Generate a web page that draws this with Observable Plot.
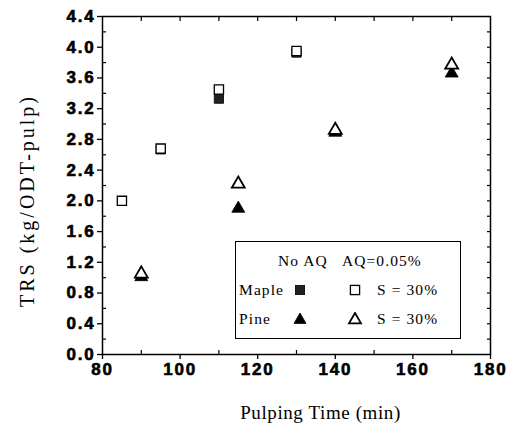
<!DOCTYPE html>
<html><head><meta charset="utf-8">
<script src="https://cdn.jsdelivr.net/npm/d3@7"></script>
<script src="https://cdn.jsdelivr.net/npm/@observablehq/plot@0.6"></script>
<style>
body{margin:0;background:#fff;}
#wrap{position:relative;width:511px;height:432px;}
#legend{position:absolute;left:235px;top:241px;width:224px;height:96px;border:1.5px solid #000;box-sizing:content-box;font-family:"Liberation Serif","Times New Roman",serif;font-size:15.5px;color:#000;letter-spacing:1.1px;}
#legend span, #legend svg{position:absolute;line-height:1;}
</style></head><body><div id="wrap"></div>
<script>
// Data
const mapleNoAQTime = [95, 110, 130];
const mapleNoAQ     = [2.67, 3.33, 3.93];
const mapleAQTime   = [85, 95, 110, 130];
const mapleAQ       = [2.00, 2.68, 3.45, 3.95];
const pineTime      = [90, 115, 140, 170];
const pineNoAQ      = [1.01, 1.90, 2.89, 3.66];
const pineAQ        = [1.05, 2.22, 2.92, 3.77];
const xMajor = [80, 100, 120, 140, 160, 180];
const xMinor = [90, 110, 130, 150, 170];
const xAll   = [90, 100, 110, 120, 130, 140, 150, 160, 170];
const yMajor = [0.0, 0.4, 0.8, 1.2, 1.6, 2.0, 2.4, 2.8, 3.2, 3.6, 4.0, 4.4];
const yMinor = [0.2, 0.6, 1.0, 1.4, 1.8, 2.2, 2.6, 3.0, 3.4, 3.8, 4.2];
const yAll   = [0.2, 0.4, 0.6, 0.8, 1.0, 1.2, 1.4, 1.6, 1.8, 2.0, 2.2, 2.4, 2.6, 2.8, 3.0, 3.2, 3.4, 3.6, 3.8, 4.0, 4.2];
const xLabel = "Pulping Time (min)";
const yLabel = "TRS (kg/ODT-pulp)";

const pts = (xs, ys) => xs.map((x, i) => ({x, y: ys[i]}));
const tickFont = {fontSize: 17, fontWeight: "bold", fontFamily: "'Liberation Sans', Arial, sans-serif"};
const blank = () => "";
const serif = "'Liberation Serif', 'Times New Roman', serif";

const plot = Plot.plot({
  width: 511, height: 432,
  marginLeft: 102, marginRight: 21, marginTop: 16, marginBottom: 78,
  x: {domain: [80, 180]},
  y: {domain: [0, 4.4]},
  style: {background: "white", color: "black", overflow: "visible"},
  marks: [
    Plot.frame({stroke: "black", strokeWidth: 1.5}),
    Plot.axisX(xMajor, {anchor: "bottom", tickSize: 5, tickPadding: 3, strokeWidth: 1.3, label: null, tickFormat: d => String(d), ...tickFont}),
    Plot.axisX(xMinor, {anchor: "bottom", tickSize: 4, dy: -4, strokeWidth: 1.2, label: null, tickFormat: blank}),
    Plot.axisX(xAll, {anchor: "top", tickSize: 4, dy: 4, strokeWidth: 1.2, label: null, tickFormat: blank}),
    Plot.axisY(yMajor, {anchor: "left", tickSize: 5, tickPadding: 2, strokeWidth: 1.3, label: null, tickFormat: d => d.toFixed(1), ...tickFont}),
    Plot.axisY(yMinor, {anchor: "left", tickSize: 4, dx: 4, strokeWidth: 1.2, label: null, tickFormat: blank}),
    Plot.axisY(yAll, {anchor: "right", tickSize: 4, dx: -4, strokeWidth: 1.2, label: null, tickFormat: blank}),
    Plot.text([xLabel], {frameAnchor: "bottom", dy: 64, dx: 24, text: d => d, fontSize: 19, fontFamily: serif}),
    Plot.text([yLabel], {frameAnchor: "left", textAnchor: "middle", dx: -75, dy: 15, rotate: -90, text: d => d, fontSize: 20, fontFamily: serif}),
    Plot.dot(pts(mapleNoAQTime, mapleNoAQ), {x: "x", y: "y", symbol: "square", r: 5.2, fill: "#222", stroke: "#000", strokeWidth: 0.8}),
    Plot.dot(pts(pineTime, pineNoAQ), {x: "x", y: "y", symbol: "triangle", r: 4.8, fill: "#000", stroke: "#000", strokeWidth: 0.8}),
    Plot.dot(pts(mapleAQTime, mapleAQ), {x: "x", y: "y", symbol: "square", r: 5.2, fill: "white", stroke: "#000", strokeWidth: 1.3}),
    Plot.dot(pts(pineTime, pineAQ), {x: "x", y: "y", symbol: "triangle", r: 4.8, fill: "white", stroke: "#000", strokeWidth: 1.8})
  ]
});
plot.querySelectorAll('g[aria-label$="tick label"]').forEach(g => {
  g.setAttribute("font-weight", "bold");
  g.setAttribute("stroke", "black");
  g.setAttribute("stroke-width", "0.6");
  g.style.letterSpacing = "1.8px";
});
const labelGroups = plot.querySelectorAll('g[aria-label="text"]');
if (labelGroups[0]) labelGroups[0].setAttribute("letter-spacing", "0.6");
if (labelGroups[1]) labelGroups[1].setAttribute("letter-spacing", "3");
const wrap = document.getElementById("wrap");
wrap.appendChild(plot);

// Legend
const legendHeader = "No AQ   AQ=0.05%";
const legendRows = ["Maple", "Pine"];
const legendNote = "S = 30%";
const lg = document.createElement("div");
lg.id = "legend";
const sq = (fill, sw) => `<rect x="-4.6" y="-4.6" width="9.2" height="9.2" fill="${fill}" stroke="#000" stroke-width="${sw}"/>`;
const tri = (fill, sw) => `<path d="M0,-6L6,4.4L-6,4.4Z" fill="${fill}" stroke="#000" stroke-width="${sw}"/>`;
lg.innerHTML =
  `<span style="left:42px;top:11px;white-space:pre">${legendHeader}</span>` +
  `<span style="left:3px;top:40px">${legendRows[0]}</span>` +
  `<svg style="left:57px;top:41px" width="14" height="14" viewBox="-7 -7 14 14">${sq("#222",0.8)}</svg>` +
  `<svg style="left:112px;top:41px" width="14" height="14" viewBox="-7 -7 14 14">${sq("white",1.3)}</svg>` +
  `<span style="left:141px;top:40px">${legendNote}</span>` +
  `<span style="left:3px;top:69px">${legendRows[1]}</span>` +
  `<svg style="left:56px;top:70px" width="16" height="14" viewBox="-8 -7 16 14">${tri("#000",0.8)}</svg>` +
  `<svg style="left:111px;top:70px" width="16" height="14" viewBox="-8 -7 16 14">${tri("white",1.8)}</svg>` +
  `<span style="left:141px;top:69px">${legendNote}</span>`;
wrap.appendChild(lg);
</script>
</body></html>
